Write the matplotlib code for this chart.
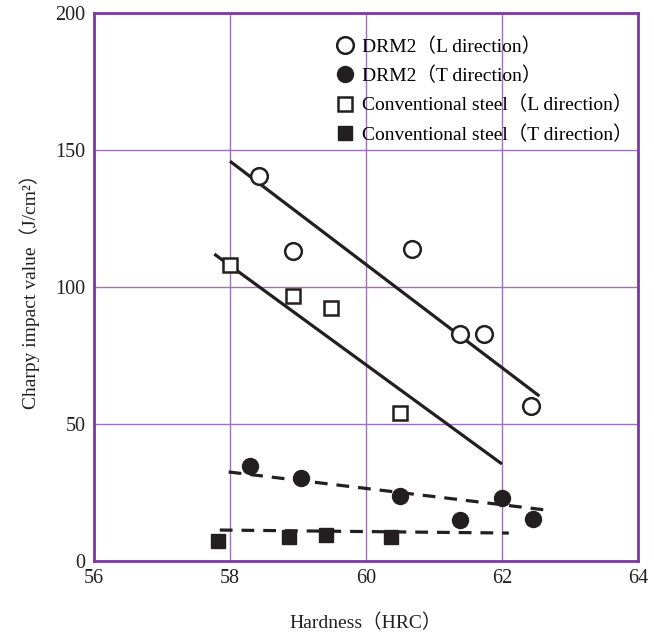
import numpy as np
import matplotlib
matplotlib.use("Agg")
import matplotlib.pyplot as plt

# values
drm2_l_x = [58.43, 58.93, 60.67, 61.38, 61.73, 62.43]
drm2_l_y = [140.5, 113, 114, 83, 83, 56.5]
drm2_t_x = [58.3, 59.05, 60.5, 61.38, 62.0, 62.45]
drm2_t_y = [34.7, 30.3, 23.7, 15, 23, 15.3]
conv_l_x = [58.0, 58.93, 59.49, 60.5]
conv_l_y = [108, 96.7, 92.3, 54]
conv_t_x = [57.83, 58.87, 59.41, 60.37]
conv_t_y = [7.3, 8.8, 9.5, 8.8]

# trend lines (end points)
drm2_l_fit = ([58.0, 62.55], [145.9, 60.2])
conv_l_fit = ([57.77, 62.0], [112, 35.4])
drm2_t_fit = ([57.98, 62.65], [32.5, 18.6])
conv_t_fit = ([57.85, 62.1], [11.3, 10.2])

purple = "#7a3b9c"
grid_purple = "#a070c0"
ink = "#231f20"

plt.rcParams["font.family"] = ["Liberation Serif", "Noto Sans CJK JP", "DejaVu Serif"]
plt.rcParams["font.size"] = 13

fig = plt.figure(figsize=(6.54, 6.37), dpi=100)
ax = fig.add_axes([0.1437, 0.1193, 0.8318, 0.8603])

for xs, ys in (drm2_l_fit, conv_l_fit):
    ax.plot(xs, ys, color=ink, lw=2.3, solid_capstyle="butt", zorder=3)
for xs, ys in (drm2_t_fit, conv_t_fit):
    ax.plot(xs, ys, color=ink, lw=2.3, dashes=(4, 2.8), zorder=3)

ax.plot(drm2_l_x, drm2_l_y, "o", ms=12, mfc="white", mec=ink, mew=1.8,
        ls="none", zorder=4, label="DRM2\uff08L direction\uff09")
ax.plot(drm2_t_x, drm2_t_y, "o", ms=11.5, color=ink,
        ls="none", zorder=4, label="DRM2\uff08T direction\uff09")
ax.plot(conv_l_x, conv_l_y, "s", ms=9.5, mfc="white", mec=ink, mew=1.8,
        ls="none", zorder=4, label="Conventional steel\uff08L direction\uff09")
ax.plot(conv_t_x, conv_t_y, "s", ms=9.5, color=ink,
        ls="none", zorder=4, label="Conventional steel\uff08T direction\uff09")

ax.set_xlim(56, 64)
ax.set_ylim(0, 200)
ax.set_xticks([56, 58, 60, 62, 64])
ax.set_yticks([0, 50, 100, 150, 200])
ax.tick_params(length=0, labelsize=14.5, colors=ink, pad=6)
ax.grid(True, color=grid_purple, lw=1.0)
ax.set_axisbelow(True)
for sp in ax.spines.values():
    sp.set_color(purple)
    sp.set_linewidth(2)

ax.set_xlabel("Hardness\uff08HRC\uff09", fontsize=14, color=ink, labelpad=18)
ax.set_ylabel("Charpy impact value\uff08J/cm\u00b2\uff09", fontsize=14,
              color=ink, labelpad=11)

leg = ax.legend(loc="upper right", bbox_to_anchor=(1.015, 0.98), frameon=False,
                handletextpad=0.25, labelspacing=0.55, fontsize=14,
                handlelength=1.2, borderaxespad=0.3)

plt.savefig("out.png", dpi=100)
